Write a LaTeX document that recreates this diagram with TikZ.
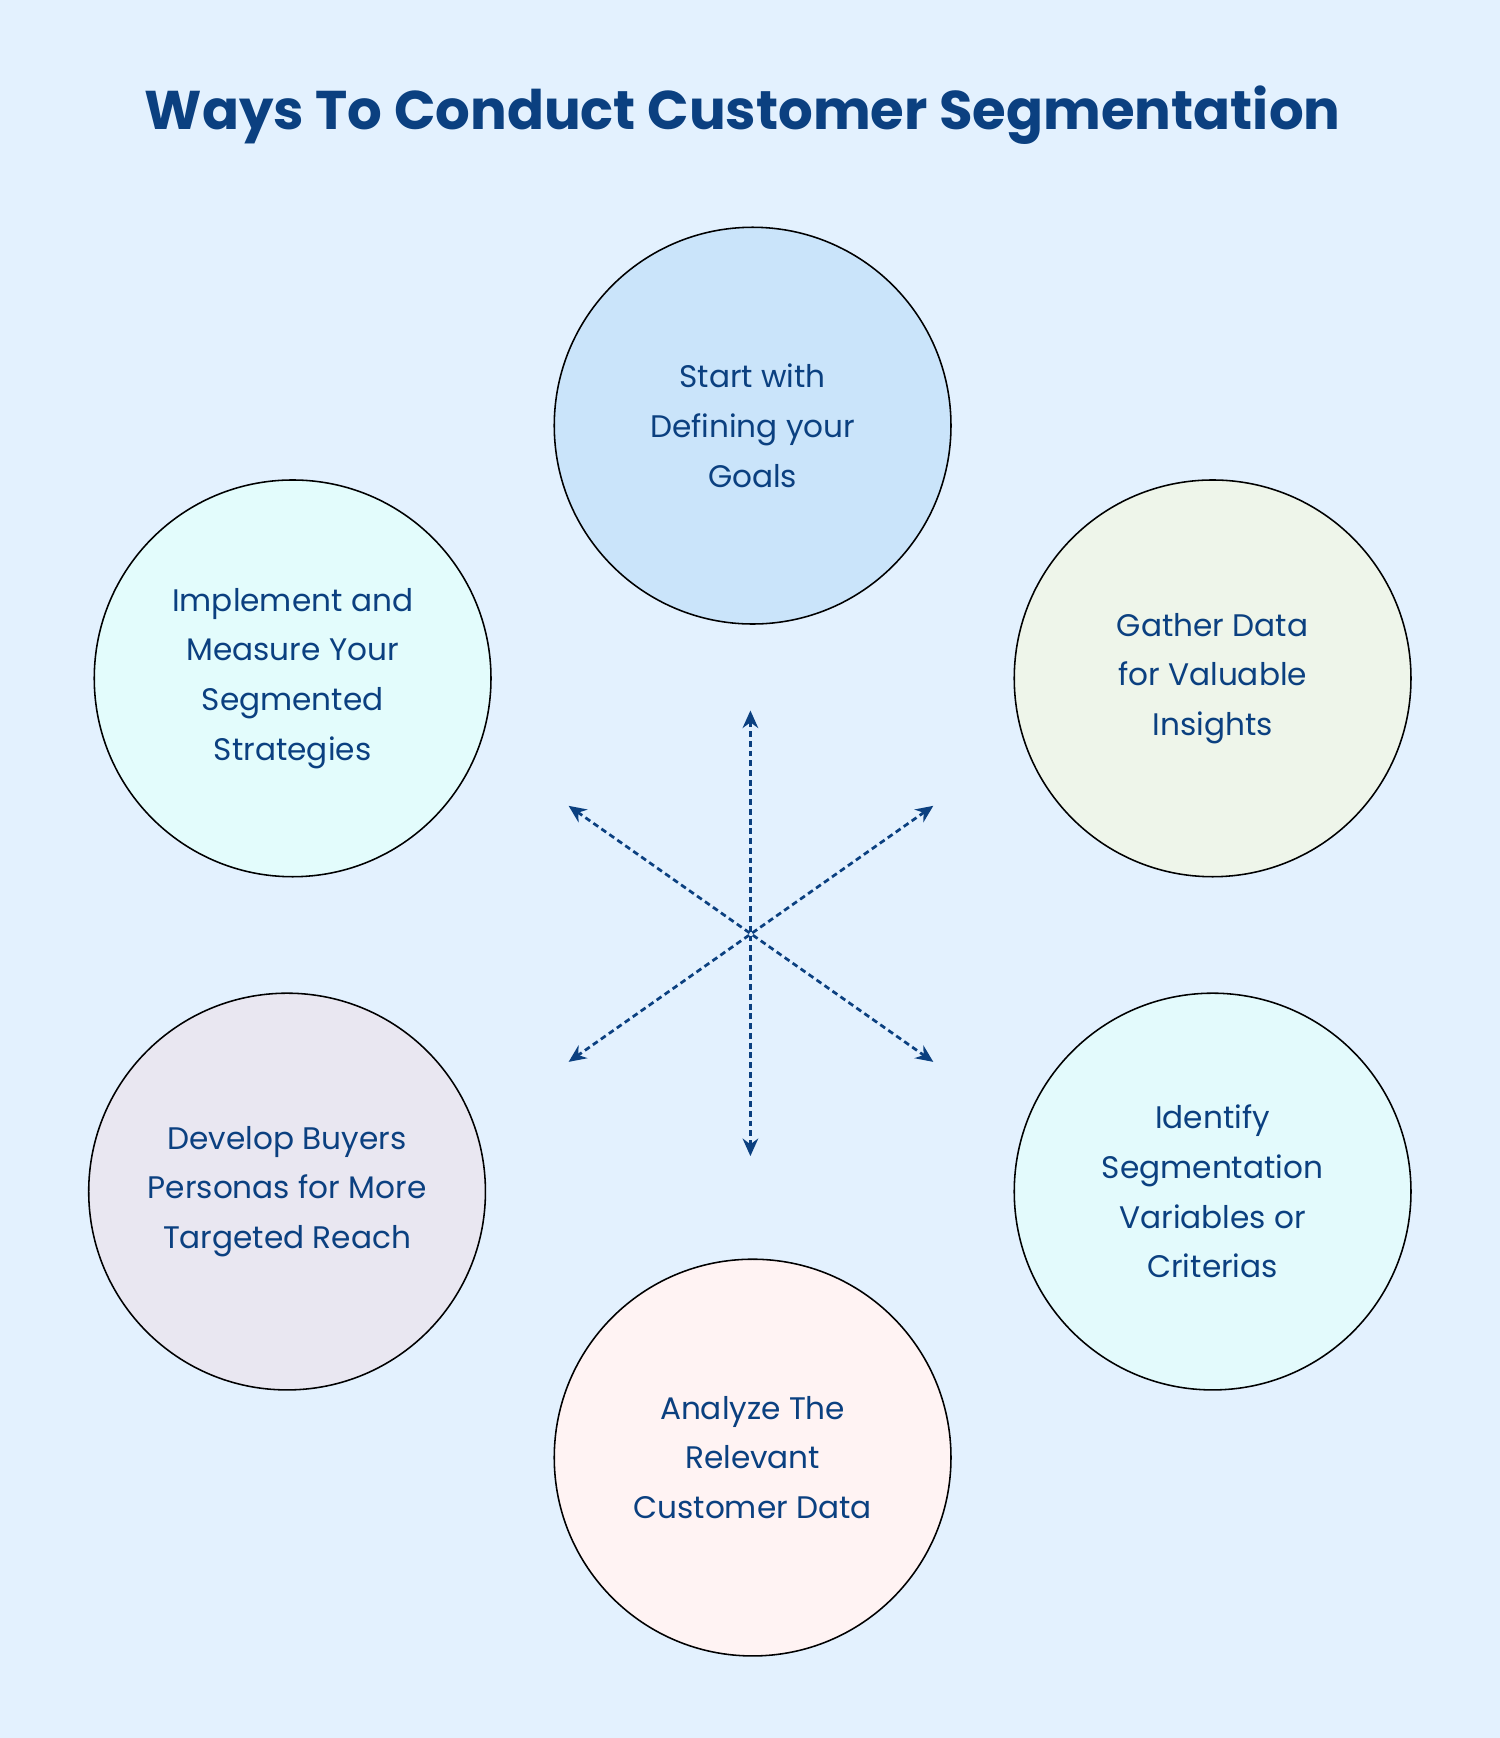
\documentclass[tikz,border=0pt]{standalone}
\usepackage{fontspec}
\setmainfont{Poppins}
\usetikzlibrary{arrows.meta}
\definecolor{bgblue}{HTML}{E3F1FE}
\definecolor{txtblue}{HTML}{0B4080}
\definecolor{cgoal}{HTML}{CAE4FA}
\definecolor{cgather}{HTML}{EEF5EA}
\definecolor{cident}{HTML}{E3FAFC}
\definecolor{canalyze}{HTML}{FFF3F3}
\definecolor{cdevelop}{HTML}{E9E7F1}
\definecolor{cimpl}{HTML}{E3FCFC}
\tikzset{
  stage/.style={circle, draw=black, line width=0.8pt, minimum size=7.16cm, inner sep=0pt,
    align=center, text=txtblue, font=\fontsize{16}{25.5}\selectfont},
  link/.style={densely dashed, draw=txtblue, line width=1.4pt, {Stealth[length=9pt,width=8pt]}-{Stealth[length=9pt,width=8pt]}}
}
\begin{document}
\begin{tikzpicture}[x=0.02cm,y=-0.02cm]
\fill[bgblue] (0,0) rectangle (1353,1568);

\node[font=\fontsize{28}{34}\selectfont\bfseries, text=txtblue] (title) at (670,104) {Ways To Conduct Customer Segmentation};

\node[stage, fill=cgoal] (goal) at (679,384) {Start with\\Defining your\\Goals};
\node[stage, fill=cgather] (gather) at (1094,612) {Gather Data\\for Valuable\\Insights};
\node[stage, fill=cident] (ident) at (1094,1075) {Identify\\Segmentation\\Variables or\\Criterias};
\node[stage, fill=canalyze] (analyze) at (679,1315) {Analyze The\\Relevant\\Customer Data};
\node[stage, fill=cdevelop] (develop) at (259,1075) {Develop Buyers\\Personas for More\\Targeted Reach};
\node[stage, fill=cimpl] (impl) at (264,612) {Implement and\\Measure Your\\Segmented\\Strategies};

% arrow ends
\coordinate (up) at (677,641);
\coordinate (down) at (677,1043);
\coordinate (ul) at (513,727);
\coordinate (ur) at (842,727);
\coordinate (ll) at (513,958);
\coordinate (lr) at (842,958);

\draw[link] (up) -- (down);
\draw[link] (ul) -- (lr);
\draw[link] (ur) -- (ll);
\end{tikzpicture}
\end{document}
